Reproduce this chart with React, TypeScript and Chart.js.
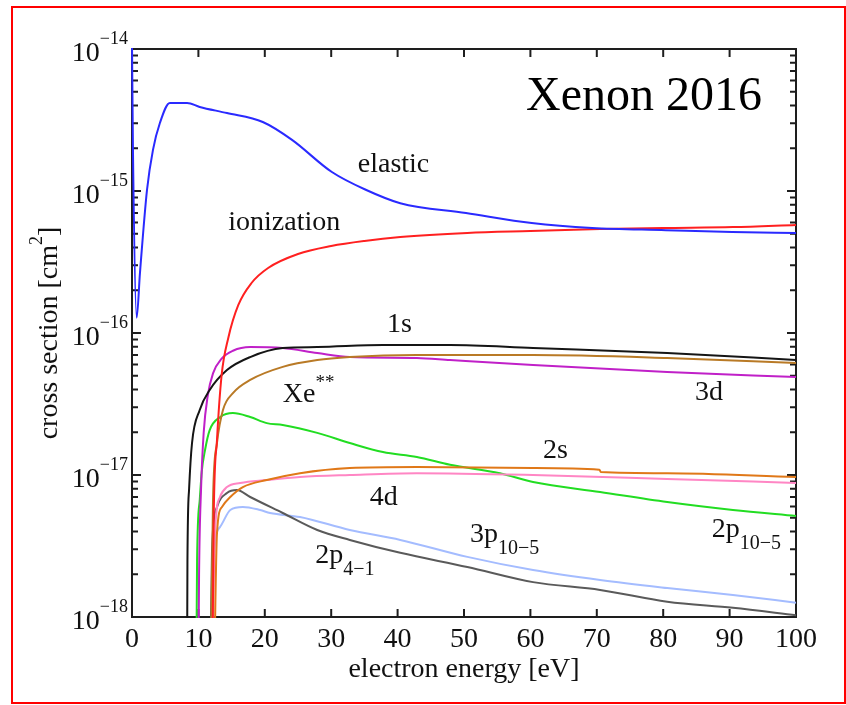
import React, { useEffect, useRef } from "react";
import { Chart, registerables } from "chart.js";

Chart.register(...registerables);

// Electron-impact cross sections of xenon, energy in eV, cross section in cm^2.
// A curve starts just below the axis floor at its threshold energy.
const elasticEnergy = [0, 0.15, 0.7, 1.2, 2.26, 3.16, 4.2, 5.7, 8.3, 10.2, 14.3, 19.7, 24.1, 30.1, 35.2, 40.4, 50.3, 60.2, 69.3, 80.4, 90.4, 100];
const elasticXs = [1.1e-14, 1.85e-15, 1.28e-16, 2.65e-16, 1.02e-15, 1.95e-15, 3.01e-15, 4.17e-15, 4.17e-15, 3.91e-15, 3.54e-15, 3.06e-15, 2.29e-15, 1.36e-15, 1.02e-15, 8.2e-16, 7.0e-16, 5.95e-16, 5.49e-16, 5.3e-16, 5.14e-16, 5.06e-16];

const ionizationEnergy = [12.0, 12.3, 12.8, 13.5, 14.5, 16.0, 18.0, 20.5, 25.0, 30.0, 35.0, 40.4, 50.5, 60.0, 70.5, 80.0, 90.5, 100];
const ionizationXs = [1e-19, 4.82e-18, 1.76e-17, 5.06e-17, 9.23e-17, 1.57e-16, 2.25e-16, 2.87e-16, 3.6e-16, 4.1e-16, 4.45e-16, 4.74e-16, 5.06e-16, 5.22e-16, 5.39e-16, 5.49e-16, 5.57e-16, 5.77e-16];

const s1Energy = [8.25, 8.35, 8.6, 9.04, 10.2, 11.7, 14.3, 17.8, 22.7, 27.9, 37.8, 47.9, 60.4, 80.6, 100];
const s1Xs = [1e-19, 2.5e-18, 8.0e-18, 1.68e-17, 2.87e-17, 3.97e-17, 5.48e-17, 6.77e-17, 7.83e-17, 7.96e-17, 8.22e-17, 8.22e-17, 7.83e-17, 7.23e-17, 6.45e-17];

const d3Energy = [9.9, 10.1, 10.4, 10.8, 11.4, 12.2, 13.5, 15.2, 17.8, 22.7, 27.9, 32.8, 42.9, 47.9, 60.4, 80.6, 100];
const d3Xs = [1e-19, 2.0e-18, 8.0e-18, 2.0e-17, 3.6e-17, 5.2e-17, 6.6e-17, 7.5e-17, 7.96e-17, 7.83e-17, 7.23e-17, 6.77e-17, 6.67e-17, 6.45e-17, 5.95e-17, 5.31e-17, 4.89e-17];

const xeStarEnergy = [11.7, 12.2, 12.8, 13.7, 15.2, 17.8, 22.7, 27.9, 32.8, 42.9, 60.4, 80.6, 100];
const xeStarXs = [1e-19, 6.67e-18, 1.68e-17, 2.87e-17, 3.77e-17, 4.67e-17, 5.77e-17, 6.45e-17, 6.77e-17, 7.0e-17, 7.0e-17, 6.67e-17, 6.15e-17];

const p2hiEnergy = [9.6, 9.8, 10.2, 10.5, 11.0, 11.7, 13.3, 15.2, 17.8, 20.3, 22.7, 27.9, 32.8, 37.8, 42.9, 47.9, 55.4, 60.4, 70.5, 80.6, 90.5, 100];
const p2hiXs = [1e-19, 2.52e-18, 6.67e-18, 1.05e-17, 1.5e-17, 2.07e-17, 2.56e-17, 2.73e-17, 2.56e-17, 2.32e-17, 2.25e-17, 1.98e-17, 1.68e-17, 1.45e-17, 1.34e-17, 1.18e-17, 1.03e-17, 8.92e-18, 7.59e-18, 6.45e-18, 5.67e-18, 5.14e-18];

const s2Energy = [12.2, 12.8, 13.55, 14.8, 16.7, 20.3, 25.3, 32.8, 42.9, 60.4, 70.4, 70.6, 80.6, 100];
const s2Xs = [1e-19, 3.9e-18, 5.96e-18, 7.0e-18, 8.22e-18, 9.22e-18, 1.03e-17, 1.12e-17, 1.14e-17, 1.12e-17, 1.09e-17, 1.05e-17, 1.03e-17, 9.68e-18];

const d4Energy = [11.9, 12.5, 13.25, 14.3, 16.3, 20.3, 25.3, 32.8, 42.9, 60.4, 80.6, 100];
const d4Xs = [1e-19, 3.9e-18, 7.0e-18, 8.22e-18, 8.79e-18, 9.22e-18, 9.68e-18, 1.0e-17, 1.03e-17, 1.0e-17, 9.38e-18, 8.79e-18];

const p2loEnergy = [11.6, 12.05, 12.8, 14.3, 15.8, 17.8, 22.7, 27.9, 32.8, 40.4, 50.5, 60.4, 70.5, 80.6, 90.5, 100];
const p2loXs = [1e-19, 2.96e-18, 5.96e-18, 7.46e-18, 7.83e-18, 7.0e-18, 5.4e-18, 4.1e-18, 3.49e-18, 2.83e-18, 2.25e-18, 1.76e-18, 1.55e-18, 1.28e-18, 1.16e-18, 1.03e-18];

const p3Energy = [11.9, 12.2, 13.25, 14.8, 16.7, 19.3, 20.8, 25.3, 32.8, 40.4, 50.5, 60.4, 70.5, 80.6, 90.5, 100];
const p3Xs = [1e-19, 2.25e-18, 4.3e-18, 5.67e-18, 5.96e-18, 5.67e-18, 5.4e-18, 5.06e-18, 4.1e-18, 3.49e-18, 2.65e-18, 2.14e-18, 1.82e-18, 1.6e-18, 1.43e-18, 1.26e-18];

// Axis ticks
const energyTicks = [0, 10, 20, 30, 40, 50, 60, 70, 80, 90, 100];
const decadeExponents = [-18, -17, -16, -15, -14];

const SERIF = '"Liberation Serif", "Times New Roman", Times, serif';
const MAIN = 28;
const SMALL = 20;

type Run = { text: string; size: number; shift: number };
const main = (text: string): Run => ({ text, size: MAIN, shift: 0 });
const sub = (text: string): Run => ({ text, size: SMALL, shift: 12 });
const sup = (text: string): Run => ({ text, size: 19, shift: -14 });

const series = [
  { name: "elastic", energy: elasticEnergy, xs: elasticXs, color: "#2a2aff" },
  { name: "ionization", energy: ionizationEnergy, xs: ionizationXs, color: "#ff2020" },
  { name: "1s", energy: s1Energy, xs: s1Xs, color: "#151515" },
  { name: "Xe**", energy: xeStarEnergy, xs: xeStarXs, color: "#b97a26" },
  { name: "3d", energy: d3Energy, xs: d3Xs, color: "#c020c8" },
  { name: "2s", energy: s2Energy, xs: s2Xs, color: "#e07818" },
  { name: "4d", energy: d4Energy, xs: d4Xs, color: "#ff86c4" },
  { name: "2p10-5", energy: p2hiEnergy, xs: p2hiXs, color: "#22dd22" },
  { name: "2p4-1", energy: p2loEnergy, xs: p2loXs, color: "#5a5a5a" },
  { name: "3p10-5", energy: p3Energy, xs: p3Xs, color: "#a4bcff" },
];

// Curve names, anchored in data units (left edge, baseline)
const curveLabels: { runs: Run[]; e: number; xs: number }[] = [
  { runs: [main("elastic")], e: 34.0, xs: 1.36e-15 },
  { runs: [main("ionization")], e: 14.5, xs: 5.31e-16 },
  { runs: [main("1s")], e: 38.4, xs: 1.02e-16 },
  { runs: [main("Xe"), sup("**")], e: 22.7, xs: 3.27e-17 },
  { runs: [main("3d")], e: 84.8, xs: 3.37e-17 },
  { runs: [main("2s")], e: 61.9, xs: 1.32e-17 },
  { runs: [main("4d")], e: 35.8, xs: 6.15e-18 },
  { runs: [main("2p"), sub("4\u22121")], e: 27.6, xs: 2.4e-18 },
  { runs: [main("3p"), sub("10\u22125")], e: 50.9, xs: 3.37e-18 },
  { runs: [main("2p"), sub("10\u22125")], e: 87.3, xs: 3.66e-18 },
];

function runsWidth(ctx: CanvasRenderingContext2D, runs: Run[]) {
  let w = 0;
  for (const r of runs) {
    ctx.font = `${r.size}px ${SERIF}`;
    w += ctx.measureText(r.text).width;
  }
  return w;
}

function drawRuns(ctx: CanvasRenderingContext2D, runs: Run[], x: number, y: number) {
  let cx = x;
  ctx.textAlign = "left";
  ctx.textBaseline = "alphabetic";
  for (const r of runs) {
    ctx.font = `${r.size}px ${SERIF}`;
    ctx.fillText(r.text, cx, y + r.shift);
    cx += ctx.measureText(r.text).width;
  }
}

const frameAndTicks = {
  id: "frameAndTicks",
  beforeDatasetsDraw(chart: any) {
    const { ctx, chartArea, scales } = chart;
    const { left, right, top, bottom } = chartArea;
    ctx.save();
    ctx.strokeStyle = "#1e1e1e";
    ctx.lineWidth = 2;
    ctx.strokeRect(left, top, right - left, bottom - top);
    ctx.beginPath();
    for (const e of energyTicks) {
      const px = scales.x.getPixelForValue(e);
      ctx.moveTo(px, bottom);
      ctx.lineTo(px, bottom - 8);
      ctx.moveTo(px, top);
      ctx.lineTo(px, top + 8);
    }
    for (const d of decadeExponents) {
      for (let m = 1; m <= 9; m++) {
        if (d === decadeExponents[decadeExponents.length - 1] && m > 1) break;
        const py = scales.y.getPixelForValue(m * Math.pow(10, d));
        const len = m === 1 ? 9 : 6;
        ctx.moveTo(left, py);
        ctx.lineTo(left + len, py);
        ctx.moveTo(right, py);
        ctx.lineTo(right - len, py);
      }
    }
    ctx.stroke();
    ctx.restore();
  },
  afterDraw(chart: any) {
    const { ctx, chartArea, scales, width, height } = chart;
    const { left, right, top, bottom } = chartArea;
    ctx.save();
    ctx.fillStyle = "#111";

    // energy tick labels
    ctx.font = `${MAIN}px ${SERIF}`;
    ctx.textAlign = "center";
    ctx.textBaseline = "alphabetic";
    for (const e of energyTicks) {
      ctx.fillText(String(e), scales.x.getPixelForValue(e), bottom + 30);
    }

    // decade labels: 10 with a raised exponent
    for (const d of decadeExponents) {
      const py = scales.y.getPixelForValue(Math.pow(10, d));
      const runs: Run[] = [
        { text: "10", size: MAIN, shift: 12 },
        { text: "\u2212" + Math.abs(d), size: 18, shift: -5 },
      ];
      const w = runsWidth(ctx, runs);
      drawRuns(ctx, runs, left - 4 - w, py);
    }

    // axis titles
    ctx.font = `${MAIN}px ${SERIF}`;
    ctx.textAlign = "center";
    ctx.fillText("electron energy [eV]", (left + right) / 2, bottom + 60);

    const yTitle: Run[] = [main("cross section [cm"), { text: "2", size: 18, shift: -15 }, main("]")];
    ctx.save();
    ctx.translate(left - 75, (top + bottom) / 2);
    ctx.rotate(-Math.PI / 2);
    drawRuns(ctx, yTitle, -runsWidth(ctx, yTitle) / 2, 0);
    ctx.restore();

    // curve names
    for (const lab of curveLabels) {
      drawRuns(ctx, lab.runs, scales.x.getPixelForValue(lab.e), scales.y.getPixelForValue(lab.xs));
    }

    // panel title
    ctx.fillStyle = "#000";
    ctx.font = `48px ${SERIF}`;
    ctx.textAlign = "right";
    ctx.fillText("Xenon 2016", right - 34, top + 61);

    // red outer frame
    ctx.strokeStyle = "#ff0000";
    ctx.lineWidth = 2;
    ctx.strokeRect(12, 7, width - 13, height - 9);
    ctx.restore();
  },
};

export default function App() {
  const canvasRef = useRef<HTMLCanvasElement | null>(null);

  useEffect(() => {
    const canvas = canvasRef.current;
    if (!canvas) return;
    const chart = new Chart(canvas, {
      type: "line",
      data: {
        datasets: series.map((s) => ({
          label: s.name,
          data: s.energy.map((e, i) => ({ x: e, y: s.xs[i] })),
          borderColor: s.color,
          backgroundColor: s.color,
          borderWidth: 2,
          pointRadius: 0,
          fill: false,
          cubicInterpolationMode: "monotone" as const,
          clip: 1,
        })),
      },
      options: {
        animation: false,
        responsive: false,
        events: [],
        layout: { padding: { left: 132, top: 49, right: 50, bottom: 88 } },
        scales: {
          x: { type: "linear", min: 0, max: 100, display: false },
          y: { type: "logarithmic", min: 1e-18, max: 1e-14, display: false },
        },
        plugins: {
          legend: { display: false },
          tooltip: { enabled: false },
        },
      },
      plugins: [frameAndTicks],
    });
    return () => chart.destroy();
  }, []);

  return (
    <div style={{ position: "fixed", left: 0, top: 0, width: 846, height: 705, background: "#fff" }}>
      <canvas ref={canvasRef} width={846} height={705} style={{ display: "block" }} />
    </div>
  );
}
